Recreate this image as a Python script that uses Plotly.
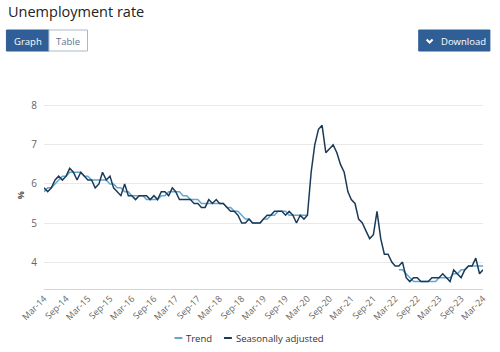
import pandas as pd
import plotly.graph_objects as go

# ---- data ----
months = pd.date_range("2014-03-01", "2024-03-01", freq="MS")

seasonally_adjusted = [
    5.9, 5.8, 5.9, 6.1, 6.2, 6.1, 6.2, 6.4, 6.3, 6.1,
    6.3, 6.2, 6.1, 6.1, 5.9, 6.0, 6.3, 6.1, 6.2, 5.9,
    5.8, 5.7, 6.0, 5.7, 5.7, 5.6, 5.7, 5.7, 5.7, 5.6,
    5.7, 5.6, 5.8, 5.8, 5.7, 5.9, 5.8, 5.6, 5.6, 5.6,
    5.6, 5.5, 5.5, 5.4, 5.4, 5.6, 5.5, 5.6, 5.5, 5.5,
    5.4, 5.3, 5.3, 5.2, 5.0, 5.0, 5.1, 5.0, 5.0, 5.0,
    5.1, 5.2, 5.2, 5.3, 5.3, 5.3, 5.2, 5.3, 5.2, 5.0,
    5.2, 5.1, 5.2, 6.3, 7.0, 7.4, 7.5, 6.8, 6.9, 7.0,
    6.8, 6.5, 6.3, 5.8, 5.6, 5.5, 5.1, 5.0, 4.8, 4.6,
    4.7, 5.3, 4.6, 4.2, 4.2, 4.0, 3.9, 3.9, 4.0, 3.6,
    3.5, 3.6, 3.6, 3.5, 3.5, 3.5, 3.6, 3.6, 3.6, 3.7,
    3.6, 3.5, 3.8, 3.7, 3.6, 3.8, 3.9, 3.9, 4.1, 3.7,
    3.8,
]

trend = [
    5.8, 5.9, 5.9, 6.0, 6.1, 6.2, 6.2, 6.3, 6.3, 6.3,
    6.3, 6.2, 6.2, 6.1, 6.1, 6.1, 6.1, 6.1, 6.0, 6.0,
    5.9, 5.9, 5.8, 5.8, 5.7, 5.7, 5.7, 5.7, 5.6, 5.6,
    5.6, 5.6, 5.7, 5.7, 5.8, 5.8, 5.8, 5.8, 5.7, 5.7,
    5.6, 5.6, 5.6, 5.5, 5.5, 5.5, 5.5, 5.5, 5.5, 5.5,
    5.4, 5.4, 5.3, 5.3, 5.2, 5.1, 5.1, 5.0, 5.0, 5.0,
    5.1, 5.1, 5.2, 5.2, 5.3, 5.3, 5.3, 5.2, 5.2, 5.2,
    5.2, 5.2, 5.2, None, None, None, None, None, None, None,
    None, None, None, None, None, None, None, None, None, None,
    None, None, None, None, None, None, None, 3.8, 3.8, 3.7,
    3.6, 3.5, 3.5, 3.5, 3.5, 3.5, 3.5, 3.5, 3.6, 3.6,
    3.6, 3.6, 3.7, 3.7, 3.8, 3.8, 3.9, 3.9, 3.9, 3.9,
    3.9,
]

tick_dates = pd.date_range("2014-03-01", "2024-03-01", freq="6MS")
tick_labels = [d.strftime("%b-%y") for d in tick_dates]
y_ticks = [4, 5, 6, 7, 8]

# ---- styling ----
TREND_COLOR = "#62a7d2"
SA_COLOR = "#1c3a58"
BTN_COLOR = "#2f5f96"
FONT = "Open Sans"

W, H = 500, 352
L, R, T, B = 44, 12, 100, 63
PW, PH = W - L - R, H - T - B


def px(x):
    return (x - L) / PW


def py(y):
    return (H - B - y) / PH


fig = go.Figure()
fig.add_trace(go.Scatter(x=months, y=trend, mode="lines", name="Trend",
                         line=dict(color=TREND_COLOR, width=1.5),
                         connectgaps=False))
fig.add_trace(go.Scatter(x=months, y=seasonally_adjusted, mode="lines",
                         name="Seasonally adjusted",
                         line=dict(color=SA_COLOR, width=1.5)))

shapes = []
annotations = []

# Buttons
shapes.append(dict(type="rect", xref="paper", yref="paper",
                   x0=px(6), x1=px(49), y0=py(51), y1=py(30),
                   fillcolor=BTN_COLOR, line=dict(color=BTN_COLOR, width=1)))
shapes.append(dict(type="rect", xref="paper", yref="paper",
                   x0=px(49), x1=px(88), y0=py(51), y1=py(30),
                   fillcolor="white", line=dict(color="#a9b8c8", width=1)))
shapes.append(dict(type="rect", xref="paper", yref="paper",
                   x0=px(423), x1=px(495), y0=py(51), y1=py(30),
                   fillcolor=BTN_COLOR, line=dict(color=BTN_COLOR, width=1)))
shapes.append(dict(type="path", xref="paper", yref="paper",
                   path="M {} {} L {} {} L {} {}".format(px(431), py(39.5), px(434), py(42.5), px(437), py(39.5)),
                   line=dict(color="white", width=2)))
annotations.append(dict(text="Graph", xref="paper", yref="paper", x=px(27.5), y=py(41),
                        showarrow=False, font=dict(family=FONT, size=9.5, color="white"),
                        xanchor="center", yanchor="middle"))
annotations.append(dict(text="Table", xref="paper", yref="paper", x=px(68.5), y=py(41),
                        showarrow=False, font=dict(family=FONT, size=9.5, color="#5a7490"),
                        xanchor="center", yanchor="middle"))
annotations.append(dict(text="Download", xref="paper", yref="paper", x=px(443), y=py(41),
                        showarrow=False, font=dict(family=FONT, size=9.5, color="white"),
                        xanchor="left", yanchor="middle"))

# y-axis title
annotations.append(dict(text="<b>%</b>", xref="paper", yref="paper", x=px(20), y=py(195),
                        showarrow=False, textangle=-90,
                        font=dict(family=FONT, size=9, color="#555"),
                        xanchor="center", yanchor="middle"))

# Legend (custom)
shapes.append(dict(type="line", xref="paper", yref="paper",
                   x0=px(176), x1=px(184), y0=py(338), y1=py(338),
                   line=dict(color=TREND_COLOR, width=2)))
annotations.append(dict(text="Trend", xref="paper", yref="paper", x=px(186), y=py(338),
                        showarrow=False, font=dict(family=FONT, size=9.5, color="#333"),
                        xanchor="left", yanchor="middle"))
shapes.append(dict(type="line", xref="paper", yref="paper",
                   x0=px(226), x1=px(234), y0=py(338), y1=py(338),
                   line=dict(color=SA_COLOR, width=2)))
annotations.append(dict(text="Seasonally adjusted", xref="paper", yref="paper", x=px(236), y=py(338),
                        showarrow=False, font=dict(family=FONT, size=9.5, color="#333"),
                        xanchor="left", yanchor="middle"))

fig.update_layout(
    width=W, height=H,
    margin=dict(l=L, r=R, t=T, b=B),
    paper_bgcolor="white", plot_bgcolor="white",
    showlegend=False,
    title=dict(text="Unemployment rate", xref="container", yref="container",
               x=8 / W, y=1 - 12 / H, xanchor="left", yanchor="middle",
               font=dict(family=FONT, size=14.5, color="#222")),
    font=dict(family=FONT),
    shapes=shapes,
    annotations=annotations,
    xaxis=dict(
        range=[months[0], months[-1]],
        tickmode="array", tickvals=list(tick_dates), ticktext=tick_labels,
        tickangle=-45, tickfont=dict(family=FONT, size=9, color="#666"),
        showgrid=False, zeroline=False,
        showline=True, linecolor="#ccd6eb", linewidth=1,
        ticks="", fixedrange=True,
    ),
    yaxis=dict(
        range=[3.31, 8.15],
        tickmode="array", tickvals=y_ticks,
        tickfont=dict(family=FONT, size=10, color="#666"),
        showgrid=True, gridcolor="#e9e9e9", gridwidth=1,
        zeroline=False, showline=False, ticks="",
        ticklabelstandoff=6, fixedrange=True,
    ),
)

fig.write_html("out.html", config={"displayModeBar": False})
